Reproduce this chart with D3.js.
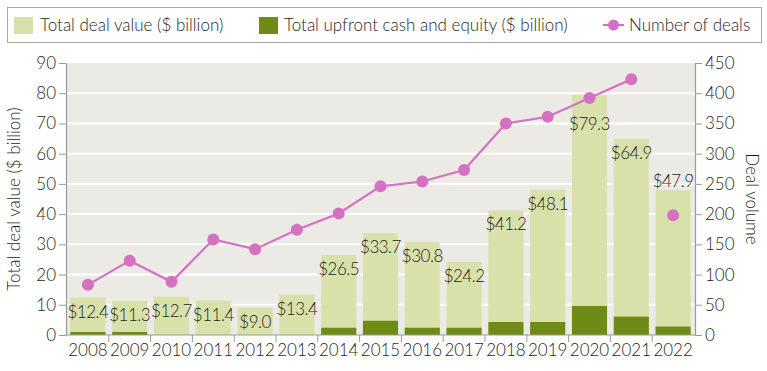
<!DOCTYPE html>
<html>
<head>
<meta charset="utf-8">
<script src="https://cdn.jsdelivr.net/npm/d3@7"></script>
<style>
    body { margin: 0; background: #fff; }
    svg text { font-family: Lato, "Open Sans", sans-serif; font-weight: 300; fill: #1e1e1e; }
</style>
</head>
<body>
<div id="chart"></div>
<script>
// data
const years = ['2008', '2009', '2010', '2011', '2012', '2013', '2014', '2015', '2016', '2017', '2018', '2019', '2020', '2021', '2022'];
const totalValue = [12.4, 11.3, 12.7, 11.4, 9.0, 13.4, 26.5, 33.7, 30.8, 24.2, 41.2, 48.1, 79.3, 64.9, 47.9];
const upfrontValue = [1.0, 1.0, 0, 0, 0, 0, 2.4, 4.7, 2.4, 2.4, 4.3, 4.3, 9.6, 6.1, 2.8];
const dealCount = [83, 123, 88, 158, 142, 174, 201, 246, 254, 273, 350, 361, 392, 423, 198];
const leftTicks = [0, 10, 20, 30, 40, 50, 60, 70, 80, 90];
const rightTicks = [0, 50, 100, 150, 200, 250, 300, 350, 400, 450];

const colors = { total: '#d9e1aa', upfront: '#6e8b16', deals: '#d670c3', bg: '#ebeae5' };

const width = 767, height = 371;
const plot = { left: 66, right: 695, top: 63, bottom: 335 };

const svg = d3.select('#chart').append('svg')
    .attr('width', width)
    .attr('height', height);

const x = d3.scaleBand()
    .domain(years)
    .range([plot.left + 1, plot.right - 1])
    .paddingInner(0.16)
    .paddingOuter(0.08);

const yLeft = d3.scaleLinear().domain([0, 90]).range([plot.bottom, plot.top]);
const yRight = d3.scaleLinear().domain([0, 450]).range([plot.bottom, plot.top]);

// plot background + white gridlines
svg.append('rect')
    .attr('x', plot.left).attr('y', plot.top)
    .attr('width', plot.right - plot.left).attr('height', plot.bottom - plot.top)
    .attr('fill', colors.bg);

svg.append('g').selectAll('line')
    .data(leftTicks.slice(1, -1))
    .join('line')
    .attr('x1', plot.left).attr('x2', plot.right)
    .attr('y1', d => yLeft(d)).attr('y2', d => yLeft(d))
    .attr('stroke', '#fff').attr('stroke-width', 2);

const rows = years.map((y, i) => ({ year: y, total: totalValue[i], upfront: upfrontValue[i], deals: dealCount[i] }));

// bars
svg.append('g').selectAll('rect')
    .data(rows)
    .join('rect')
    .attr('x', d => x(d.year))
    .attr('width', x.bandwidth())
    .attr('y', d => yLeft(d.total))
    .attr('height', d => yLeft(0) - yLeft(d.total))
    .attr('fill', colors.total);

svg.append('g').selectAll('rect')
    .data(rows.filter(d => d.upfront > 0))
    .join('rect')
    .attr('x', d => x(d.year))
    .attr('width', x.bandwidth())
    .attr('y', d => yLeft(d.upfront))
    .attr('height', d => yLeft(0) - yLeft(d.upfront))
    .attr('fill', colors.upfront);

// value labels, inside the bar top; 2020 pushed down below the line, 2022 sits above its bar
svg.append('g').selectAll('text')
    .data(rows)
    .join('text')
    .attr('x', d => x(d.year) + x.bandwidth() / 2)
    .attr('y', d => {
        if (d.year === '2022') return yLeft(d.total) - 3;
        if (d.year === '2020') return yLeft(d.total) + 35;
        return yLeft(d.total) + 20;
    })
    .attr('text-anchor', 'middle')
    .style('font-size', '17px')
    .style('letter-spacing', '-0.5px')
    .text(d => '$' + d.total.toFixed(1));

// deals line (2008-2021), 2022 shown as a lone point
const lineRows = rows.slice(0, 14);
const line = d3.line()
    .x(d => x(d.year) + x.bandwidth() / 2)
    .y(d => yRight(d.deals));

svg.append('path')
    .datum(lineRows)
    .attr('d', line)
    .attr('fill', 'none')
    .attr('stroke', colors.deals)
    .attr('stroke-width', 2.2);

svg.append('g').selectAll('circle')
    .data(rows)
    .join('circle')
    .attr('cx', d => x(d.year) + x.bandwidth() / 2)
    .attr('cy', d => yRight(d.deals))
    .attr('r', 6)
    .attr('fill', colors.deals);

// axes
const axisColor = '#9a9a9a';

const leftAxis = svg.append('g')
    .attr('transform', `translate(${plot.left},0)`)
    .call(d3.axisLeft(yLeft).tickValues(leftTicks).tickSize(7).tickPadding(3).tickSizeOuter(0));

const rightAxis = svg.append('g')
    .attr('transform', `translate(${plot.right},0)`)
    .call(d3.axisRight(yRight).tickValues(rightTicks).tickSize(7).tickPadding(3).tickSizeOuter(0));

const bottomAxis = svg.append('g')
    .attr('transform', `translate(0,${plot.bottom})`)
    .call(d3.axisBottom(x).tickSize(0).tickPadding(9));

// tick marks between the year bands
const gap = x.step() * x.paddingInner();
svg.append('g').selectAll('line')
    .data(years.slice(1))
    .join('line')
    .attr('x1', d => x(d) - gap / 2).attr('x2', d => x(d) - gap / 2)
    .attr('y1', plot.bottom).attr('y2', plot.bottom + 7)
    .attr('stroke', axisColor);

[leftAxis, rightAxis, bottomAxis].forEach(g => {
    g.selectAll('.domain').attr('stroke', axisColor).attr('stroke-width', 1.2);
    g.selectAll('.tick line').attr('stroke', axisColor);
    g.selectAll('.tick text').style('font-size', '17px')
        .style('font-family', 'Lato, "Open Sans", sans-serif');
});
bottomAxis.select('.domain').attr('d', `M${plot.left},0H${plot.right}`);

// axis titles
svg.append('text')
    .attr('transform', `translate(20,${(plot.top + plot.bottom) / 2}) rotate(-90)`)
    .attr('text-anchor', 'middle')
    .style('font-size', '17px')
    .text('Total deal value ($ billion)');

svg.append('text')
    .attr('transform', `translate(746,${(plot.top + plot.bottom) / 2}) rotate(90)`)
    .attr('text-anchor', 'middle')
    .style('font-size', '17px')
    .text('Deal volume');

// legend
const legend = svg.append('g');
legend.append('rect')
    .attr('x', 7.5).attr('y', 7.5)
    .attr('width', 754).attr('height', 35)
    .attr('fill', '#fff')
    .attr('stroke', '#a8a8a8');

legend.append('rect').attr('x', 14).attr('y', 17).attr('width', 19).attr('height', 17).attr('fill', colors.total);
legend.append('text').attr('x', 40).attr('y', 31).style('font-size', '17px').text('Total deal value ($ billion)');

legend.append('rect').attr('x', 259).attr('y', 17).attr('width', 19).attr('height', 17).attr('fill', colors.upfront);
legend.append('text').attr('x', 284).attr('y', 31).style('font-size', '17px').text('Total upfront cash and equity ($ billion)');

legend.append('line').attr('x1', 603).attr('x2', 624).attr('y1', 25).attr('y2', 25)
    .attr('stroke', colors.deals).attr('stroke-width', 2);
legend.append('circle').attr('cx', 613.5).attr('cy', 25).attr('r', 5.5).attr('fill', colors.deals);
legend.append('text').attr('x', 629).attr('y', 31).style('font-size', '17px').text('Number of deals');
</script>
</body>
</html>
